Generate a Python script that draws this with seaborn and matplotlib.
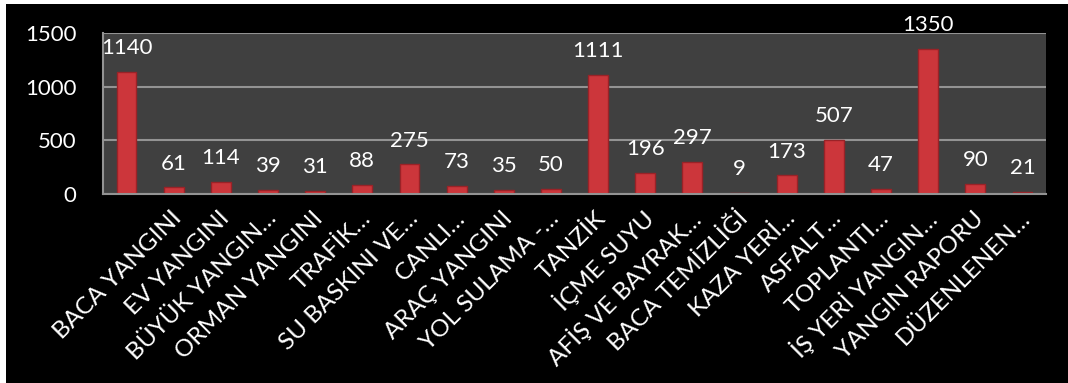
import numpy as np
import pandas as pd
import matplotlib
matplotlib.use('Agg')
import matplotlib.pyplot as plt
import matplotlib.ticker as ticker
from matplotlib.patches import Rectangle
from matplotlib.transforms import ScaledTranslation
import seaborn as sns

# Chart data
categories = [
    'BACA YANGINI', 'EV YANGINI', 'BÜYÜK YANGIN…', 'ORMAN YANGINI', 'TRAFİK…',
    'SU BASKINI VE…', 'CANLI…', 'ARAÇ YANGINI', 'YOL SULAMA -…', 'TANZİK',
    'İÇME SUYU', 'AFİŞ VE BAYRAK…', 'BACA TEMİZLİĞİ', 'KAZA YERİ…', 'ASFALT…',
    'TOPLANTI…', 'İŞ YERİ YANGIN…', 'YANGIN RAPORU', 'DÜZENLENEN…', '',
]
values = [1140, 61, 114, 39, 31, 88, 275, 73, 35, 50,
          1111, 196, 297, 9, 173, 507, 47, 1350, 90, 21]
y_ticks = [0, 500, 1000, 1500]

df = pd.DataFrame({'category': categories, 'count': values})

sns.set_style('dark')
plt.rcParams['font.family'] = ['Lato', 'DejaVu Sans']

fig = plt.figure(figsize=(10.68, 3.83), dpi=100, facecolor='white')
# black chart area with thin white margin on the top/left
fig.patches.append(Rectangle((6 / 1068, 0), 1 - 6 / 1068, 379 / 383,
                             transform=fig.transFigure, facecolor='black',
                             edgecolor='none', zorder=-10))

ax = fig.add_axes([103 / 1068, 1 - 194 / 383, 943 / 1068, 161 / 383])
ax.set_facecolor('#404040')

sns.barplot(data=df, x='category', y='count', order=categories,
            color='#cc363b', width=0.42, edgecolor='#9a2227', linewidth=1.0,
            saturation=1, ax=ax, zorder=3)

grid_color = '#939393'
ax.set_ylim(0, 1500)
ax.set_xlim(-0.5, len(categories) - 0.5)
ax.yaxis.set_major_locator(ticker.FixedLocator(y_ticks))
ax.grid(axis='y', color=grid_color, linewidth=1.5, zorder=1)
ax.grid(axis='x', visible=False)

for side in ['top', 'right']:
    ax.spines[side].set_visible(False)
for side in ['left', 'bottom']:
    ax.spines[side].set_visible(True)
    ax.spines[side].set_color(grid_color)
    ax.spines[side].set_linewidth(1.5)
    ax.spines[side].set_zorder(4)

ax.set_xlabel('')
ax.set_ylabel('')

# tick marks between categories, labels at category centres
ax.xaxis.set_minor_locator(ticker.FixedLocator(np.arange(-0.5, len(categories), 1.0)))
ax.tick_params(axis='x', which='major', length=0, pad=15, colors='white', labelsize=17.5)
ax.tick_params(axis='x', which='minor', length=5, width=1.4, color=grid_color, direction='out')
ax.tick_params(axis='y', length=6, width=1.4, color=grid_color, direction='out',
               pad=13, labelcolor='white', labelsize=16)

offset = ScaledTranslation(52 / 100, 0, fig.dpi_scale_trans)
for label in ax.get_xticklabels():
    label.set_rotation(45)
    label.set_ha('right')
    label.set_va('center')
    label.set_rotation_mode('anchor')
    label.set_transform(label.get_transform() + offset)

# value labels on top of bars
for container in ax.containers:
    ax.bar_label(container, labels=[str(v) for v in values], padding=10,
                 color='white', fontsize=16)

fig.savefig('out.png', dpi=100, facecolor=fig.get_facecolor())
